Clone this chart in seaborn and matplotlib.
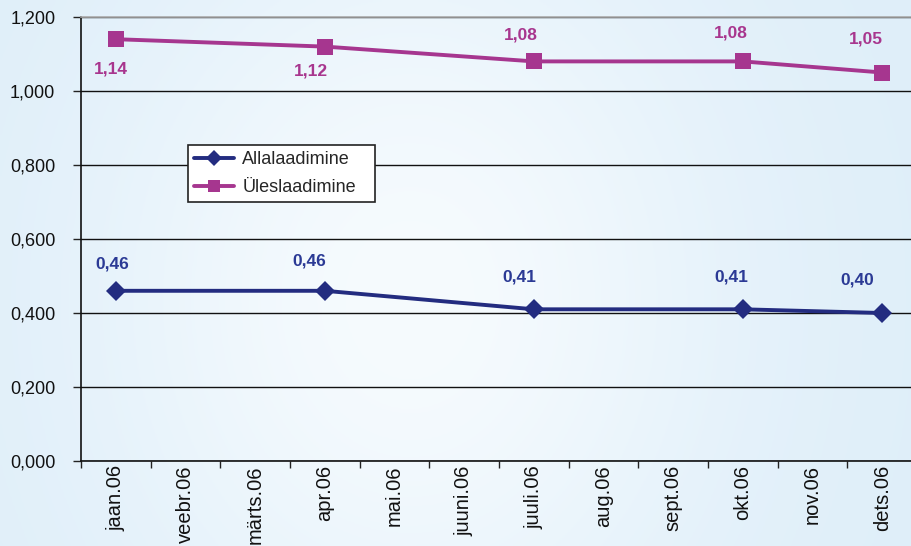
import numpy as np
import pandas as pd
import matplotlib
matplotlib.use("Agg")
import matplotlib.pyplot as plt
from matplotlib.lines import Line2D
import seaborn as sns

# Months shown on the category axis
months = ["jaan.06", "veebr.06", "märts.06", "apr.06", "mai.06", "juuni.06",
          "juuli.06", "aug.06", "sept.06", "okt.06", "nov.06", "dets.06"]

# Months that carry a measurement
measured = ["jaan.06", "apr.06", "juuli.06", "okt.06", "dets.06"]

download = [0.46, 0.46, 0.41, 0.41, 0.40]   # Allalaadimine
upload = [1.14, 1.12, 1.08, 1.08, 1.05]     # Üleslaadimine

y_ticks = [0.0, 0.2, 0.4, 0.6, 0.8, 1.0, 1.2]

series_names = ["Allalaadimine", "Üleslaadimine"]
colors = {"Allalaadimine": "#232c80", "Üleslaadimine": "#a6368f"}
label_colors = {"Allalaadimine": "#2b3a95", "Üleslaadimine": "#a8368e"}
markers = {"Allalaadimine": "D", "Üleslaadimine": "s"}

# Pixel offsets (dx, dy) of the value labels from their points
label_offsets = {
    "Allalaadimine": [(-4, 27), (-16, 30), (-15, 32), (-12, 32), (-25, 33)],
    "Üleslaadimine": [(-5, -30), (-14, -24), (-13, 26), (-12, 28), (-16, 33)],
}

rows = []
for name, vals in zip(series_names, [download, upload]):
    for m, v in zip(measured, vals):
        rows.append({"month": m, "pos": months.index(m), "value": v, "series": name})
df = pd.DataFrame(rows)

sns.set_theme(style="white")
plt.rcParams["font.family"] = ["Liberation Sans", "DejaVu Sans"]

fig = plt.figure(figsize=(9.11, 5.46), dpi=100)

# Soft sky-coloured backdrop behind the chart
bg = fig.add_axes([0, 0, 1, 1], zorder=0)
gx, gy = np.meshgrid(np.linspace(0, 1, 300), np.linspace(0, 1, 200))
w = np.exp(-((gx - 0.45) ** 2) / 0.12 - ((gy - 0.55) ** 2) / 0.5)
edge = np.array([222, 238, 249]) / 255.0
mid = np.array([246, 251, 254]) / 255.0
img = edge[None, None, :] * (1 - w[..., None]) + mid[None, None, :] * w[..., None]
bg.imshow(img, aspect="auto", extent=[0, 1, 0, 1])
bg.set_axis_off()

W, H = 911, 546
left, right, top, bottom = 81, 917, 17, 461
ax = fig.add_axes([left / W, 1 - bottom / H, (right - left) / W, (bottom - top) / H], zorder=1)
ax.patch.set_alpha(0)

sns.lineplot(data=df, x="pos", y="value", hue="series", style="series",
             palette=colors, markers=markers, dashes=False, linewidth=2.8,
             markersize=10, markeredgewidth=0, ax=ax, legend=False)
for ln in ax.lines:
    if ln.get_marker() == "D":
        ln.set_markersize(10.5)
    else:
        ln.set_markersize(11.5)

ax.set_xlim(-0.5, len(months) - 0.5)
ax.set_ylim(0, 1.2)

# Category boundaries as major ticks, names centred as minor ticks
ax.set_xticks(np.arange(len(months) + 1) - 0.5)
ax.set_xticklabels([])
ax.set_xticks(np.arange(len(months)), minor=True)
ax.set_xticklabels(months, minor=True, rotation=90, fontsize=14.5, color="#111111")
ax.tick_params(axis="x", which="major", direction="out", length=5, width=1, color="#222222", bottom=True)
ax.tick_params(axis="x", which="minor", length=0, pad=3)

ax.set_yticks(y_ticks)
ax.set_yticklabels([f"{v:.3f}".replace(".", ",") for v in y_ticks], fontsize=13, color="#111111")
ax.tick_params(axis="y", direction="out", length=6, width=1, color="#222222", left=True, pad=12.5)

ax.grid(axis="y", color="#111111", linewidth=1)
ax.grid(axis="x", visible=False)
ax.set_axisbelow(True)
for s in ["left", "bottom"]:
    ax.spines[s].set_color("#111111")
    ax.spines[s].set_linewidth(1.2)
ax.spines["right"].set_visible(False)
ax.spines["top"].set_color("#aaaaaa")
ax.spines["top"].set_linewidth(1.2)
ax.set_xlabel("")
ax.set_ylabel("")

# Value labels
for name, vals in zip(series_names, [download, upload]):
    for (m, v), (dx, dy) in zip(zip(measured, vals), label_offsets[name]):
        ax.annotate(f"{v:.2f}".replace(".", ","), (months.index(m), v),
                    xytext=(dx, dy), textcoords="offset pixels",
                    ha="center", va="center", fontsize=12.5, fontweight="bold",
                    color=label_colors[name])

# Legend box spanning a fixed region
handles = [Line2D([], [], color=colors[n], marker=markers[n], linewidth=2.8,
                  markersize=8 if markers[n] == "D" else 9, markeredgewidth=0)
           for n in series_names]
leg = ax.legend(handles, series_names, loc="upper left",
                bbox_to_anchor=(188 / W, 1 - 201 / H, 187 / W, 56 / H),
                bbox_transform=fig.transFigure, mode="expand",
                frameon=True, fancybox=False, edgecolor="#222222", facecolor="white",
                framealpha=1, fontsize=13, handlelength=2.2, handletextpad=0.45,
                borderpad=0.35, labelspacing=0.6, borderaxespad=0)
leg.get_frame().set_linewidth(1.2)

fig.savefig("out.png", dpi=100)
